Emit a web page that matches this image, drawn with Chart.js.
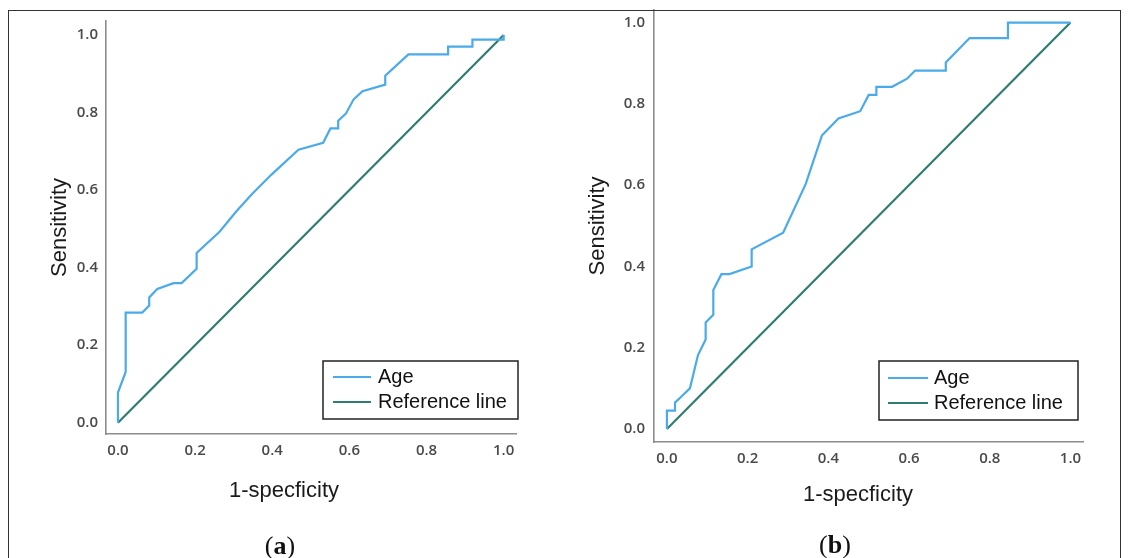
<!DOCTYPE html>
<html>
<head>
<meta charset="utf-8">
<script src="https://cdn.jsdelivr.net/npm/chart.js@4.4.1/dist/chart.umd.min.js"></script>
<style>
  body { margin: 0; background: #fff; width: 1130px; height: 558px; overflow: hidden; position: relative; font-family: "Liberation Sans", Arial, sans-serif; }
  canvas { position: absolute; top: 0; }
  #rocA { left: 0; }
  #rocB { left: 560px; }
  .frame { position: absolute; left: 8px; top: 10px; width: 1113px; height: 700px; box-sizing: border-box; border: 1.5px solid #333; pointer-events: none; }
  .xtitle { position: absolute; font-size: 22px; color: #1a1a1a; transform: translate(-50%, -50%); white-space: nowrap; }
  .cap { position: absolute; font-family: "Liberation Serif", "DejaVu Serif", serif; font-size: 26px; color: #111; transform: translate(-50%, -50%); }
</style>
</head>
<body>
<canvas id="rocA" width="560" height="558"></canvas>
<canvas id="rocB" width="570" height="558"></canvas>
<div class="frame"></div>
<div class="xtitle" style="left:284px;top:490px">1-specficity</div>
<div class="xtitle" style="left:858px;top:494px">1-specficity</div>
<div class="cap" style="left:280px;top:546px">(<b>a</b>)</div>
<div class="cap" style="left:835px;top:545px">(<b>b</b>)</div>
<script>
// ROC points: 1-specificity (x) and sensitivity (y)
const fprA = [0, 0, 0.02, 0.02, 0.063, 0.081, 0.081, 0.102, 0.144, 0.165, 0.204, 0.204, 0.264, 0.306, 0.347, 0.398, 0.468, 0.532, 0.551, 0.571, 0.571, 0.591, 0.611, 0.634, 0.693, 0.693, 0.753, 0.856, 0.856, 0.919, 0.919, 1.0, 1.0];
const tprA = [0, 0.078, 0.131, 0.284, 0.284, 0.302, 0.323, 0.345, 0.36, 0.36, 0.397, 0.438, 0.493, 0.544, 0.589, 0.64, 0.704, 0.722, 0.759, 0.759, 0.779, 0.797, 0.834, 0.855, 0.872, 0.895, 0.95, 0.95, 0.97, 0.97, 0.988, 0.988, 1.0];

const fprB = [0, 0, 0.02, 0.02, 0.036, 0.057, 0.077, 0.096, 0.096, 0.115, 0.115, 0.135, 0.155, 0.21, 0.21, 0.288, 0.344, 0.384, 0.425, 0.479, 0.5, 0.519, 0.519, 0.558, 0.595, 0.615, 0.691, 0.691, 0.75, 0.845, 0.845, 1.0];
const tprB = [0, 0.045, 0.045, 0.065, 0.08, 0.1, 0.182, 0.22, 0.262, 0.281, 0.342, 0.381, 0.381, 0.4, 0.442, 0.483, 0.603, 0.722, 0.764, 0.782, 0.822, 0.822, 0.842, 0.842, 0.862, 0.882, 0.882, 0.902, 0.962, 0.962, 1.0, 1.0];

const refX = [0, 1];
const refY = [0, 1];

const tickValues = [0, 0.2, 0.4, 0.6, 0.8, 1.0];
const seriesNames = ["Age", "Reference line"];

const ageColor = "#4aaaea";
const refColor = "#2f7d70";
const axisColor = "#8c8c8c";
const tickColor = "#4a4a4a";

function pts(xs, ys) {
  return xs.map((x, i) => ({ x: x, y: ys[i] }));
}

// legend drawn inside the plot, boxed, as in the original
const boxLegend = {
  id: "boxLegend",
  afterDraw(chart, args, opts) {
    const ctx = chart.ctx;
    ctx.save();
    ctx.strokeStyle = "#222";
    ctx.lineWidth = 1.5;
    ctx.strokeRect(opts.box[0], opts.box[1], opts.box[2], opts.box[3]);
    ctx.font = '20px "Liberation Sans", Arial, sans-serif';
    ctx.textBaseline = "middle";
    ctx.fillStyle = "#111";
    chart.data.datasets.forEach((ds, i) => {
      const y = opts.rows[i];
      ctx.strokeStyle = ds.borderColor;
      ctx.lineWidth = 2;
      ctx.beginPath();
      ctx.moveTo(opts.sample[0], y);
      ctx.lineTo(opts.sample[1], y);
      ctx.stroke();
      ctx.fillText(ds.label, opts.textX, y);
    });
    ctx.restore();
  }
};

function noEdgePad(s) {
  s.paddingTop = 0; s.paddingBottom = 0; s.paddingLeft = 0; s.paddingRight = 0;
}

function makeRoc(id, fpr, tpr, g) {
  const scaleCommon = {
    type: "linear",
    grid: { display: false, drawTicks: false },
    border: { display: true, color: axisColor, width: 1.6 },
    afterBuildTicks: s => { s.ticks = tickValues.map(v => ({ value: v })); },
    ticks: {
      color: tickColor,
      font: { family: "Open Sans", size: 15, weight: "600" },
      callback: v => v.toFixed(1)
    }
  };
  return new Chart(document.getElementById(id), {
    type: "scatter",
    data: {
      datasets: [
        { label: seriesNames[0], data: pts(fpr, tpr), showLine: true, borderColor: ageColor, borderWidth: 2.2, pointRadius: 0, tension: 0 },
        { label: seriesNames[1], data: pts(refX, refY), showLine: true, borderColor: refColor, borderWidth: 2.2, pointRadius: 0, tension: 0 }
      ]
    },
    options: {
      responsive: false,
      animation: false,
      layout: { padding: g.padding },
      plugins: {
        legend: { display: false },
        tooltip: { enabled: false },
        boxLegend: g.legend
      },
      scales: {
        x: Object.assign({}, scaleCommon, {
          min: g.xRange[0], max: g.xRange[1],
          ticks: Object.assign({}, scaleCommon.ticks, { padding: 8, maxRotation: 0 }),
          afterFit: s => { s.height = 80; noEdgePad(s); }
        }),
        y: Object.assign({}, scaleCommon, {
          min: g.yRange[0], max: g.yRange[1],
          ticks: Object.assign({}, scaleCommon.ticks, { padding: g.yTickPad }),
          title: { display: true, text: "Sensitivity", color: "#1a1a1a", font: { family: "Liberation Sans", size: 22 }, padding: { top: g.yTitlePad, bottom: 0 } },
          afterFit: s => { s.width = g.yAxisWidth; noEdgePad(s); }
        })
      }
    },
    plugins: [boxLegend]
  });
}

makeRoc("rocA", fprA, tprA, {
  padding: { left: 0, top: 21, right: 44, bottom: 44 },
  xRange: [-0.031, 1.032],
  yRange: [-0.029, 1.036],
  yAxisWidth: 106,
  yTickPad: 8,
  yTitlePad: 47,
  legend: { box: [323, 361, 195, 58], sample: [333, 371], textX: 378, rows: [377, 402] }
});

makeRoc("rocB", fprB, tprB, {
  padding: { left: 0, top: 10, right: 47, bottom: 36 },
  xRange: [-0.032, 1.031],
  yRange: [-0.032, 1.031],
  yAxisWidth: 94,
  yTickPad: 9,
  yTitlePad: 25,
  legend: { box: [319, 361, 199, 59], sample: [328, 368], textX: 374, rows: [378, 403] }
});
</script>
</body>
</html>
